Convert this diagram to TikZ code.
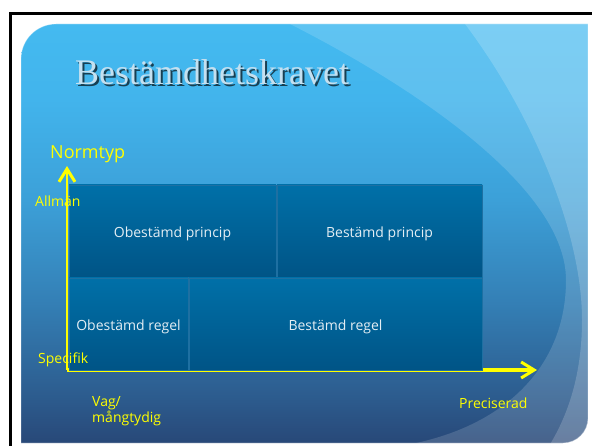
\documentclass[tikz,border=0pt]{standalone}
\usepackage{fontspec}
\setmainfont{Open Sans}
\newfontfamily\titlefont{Liberation Serif}
\usetikzlibrary{arrows.meta}
\definecolor{bgz}{RGB}{40,72,120}
\definecolor{bga}{RGB}{44,90,140}
\definecolor{bgb}{RGB}{52,128,182}
\definecolor{bgc}{RGB}{60,160,216}
\definecolor{bgd}{RGB}{66,180,236}
\definecolor{bge}{RGB}{68,186,240}
\definecolor{boxT}{RGB}{0,112,168}
\definecolor{boxB}{RGB}{0,84,134}
\definecolor{boxline}{RGB}{30,112,162}
\definecolor{boxtext}{RGB}{228,238,244}
\definecolor{axisyellow}{RGB}{255,255,0}
\definecolor{titlecol}{RGB}{196,224,240}
\pgfdeclareverticalshading{bgshade}{100bp}{color(0bp)=(bgz); color(25bp)=(bgz); color(30bp)=(bga); color(42bp)=(bgb); color(54bp)=(bgc); color(66bp)=(bgd); color(75bp)=(bge); color(100bp)=(bge)}
\begin{document}
\begin{tikzpicture}[x=1pt,y=-1pt,
  box/.style={draw=boxline, line width=0.6pt, top color=boxT, bottom color=boxB,
    minimum height=92pt, inner sep=0pt, outer sep=0pt, text=boxtext,
    font=\fontsize{14}{16}\selectfont, text height=14pt, text depth=0pt, anchor=north west},
  lab/.style={text=axisyellow, inner sep=0pt, font=\fontsize{14}{16}\selectfont},
  titletext/.style={inner sep=0pt, font=\titlefont\fontsize{36}{40}\selectfont},
  axisline/.style={draw=axisyellow, -{Straight Barb[length=13pt,width=16pt,line width=3pt]}}
]
\useasboundingbox (0,0) rectangle (592,446);
% outer frame
\draw[line width=3pt] (10.5,446) -- (10.5,13.5) -- (592,13.5);
% slide background
\path[shading=bgshade] (21,443) -- (21,59) arc (180:270:35) -- (588,24) -- (588,418) arc (0:90:25) -- cycle;
\begin{scope}
\clip (21,443) -- (21,59) arc (180:270:35) -- (588,24) -- (588,418) arc (0:90:25) -- cycle;
\fill[white, opacity=0.15] (288,20) -- (290,24) .. controls (420,90) and (566,190) .. (566,280) .. controls (566,370) and (500,430) .. (400,446) -- (600,450) -- (600,20) -- cycle;
\fill[white, opacity=0.18] (463,20) -- (465,24) .. controls (530,110) and (582,230) .. (582,320) .. controls (582,380) and (565,420) .. (549,446) -- (600,450) -- (600,20) -- cycle;
\end{scope}
\draw[white, opacity=0.35, line width=0.8pt] (21,443) -- (21,59) arc (180:270:35) -- (588,24) -- (588,418) arc (0:90:25) -- cycle;
% title
\node[titletext, text=black, opacity=0.65, anchor=base west] (titleshadow) at (77,87) {Bestämdhetskravet};
\node[titletext, text=titlecol, anchor=base west] (title) at (75,85) {Bestämdhetskravet};
% axes
\coordinate (O) at (67,370);
\coordinate (ytip) at (67,166);
\coordinate (xtip) at (537,370);
\draw[axisline, line width=2.5pt] (O) -- (ytip);
\draw[axisline, line width=3.5pt] (O) -- (xtip);
% boxes
\node[box, minimum width=207pt] (op) at (69,185) {Obestämd princip};
\node[box, minimum width=205pt] (bp) at (277,185) {Bestämd princip};
\node[box, minimum width=119pt] (or) at (69,278) {Obestämd regel};
\node[box, minimum width=293pt] (br) at (189,278) {Bestämd regel};
% labels
\node[lab, font=\fontsize{18}{20}\selectfont, anchor=base west] (normtyp) at (50,159) {Normtyp};
\node[lab, anchor=base west] (allman) at (35,207) {Allmän};
\node[lab, anchor=base west] (spec) at (38,363) {Specifik};
\node[lab, anchor=base west] (prec) at (459,409) {Preciserad};
\node[lab, anchor=north west, align=left, font=\fontsize{14}{15.5}\selectfont] (vag) at (92,396.5) {Vag/\\mångtydig};
\end{tikzpicture}
\end{document}
